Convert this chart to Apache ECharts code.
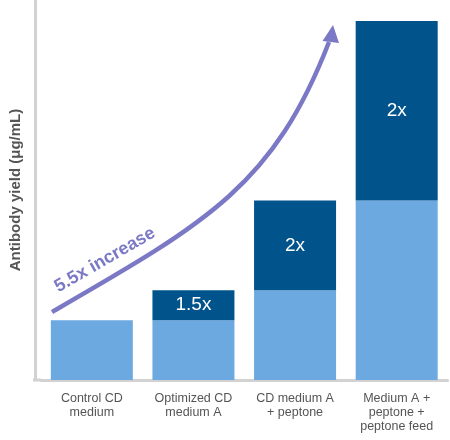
<!DOCTYPE html>
<html>
<head>
<meta charset="utf-8">
<script src="https://cdn.jsdelivr.net/npm/echarts@6/dist/echarts.min.js"></script>
<style>
  html, body { margin: 0; padding: 0; background: #fff; }
  #chart { width: 450px; height: 440px; }
</style>
</head>
<body>
<div id="chart"></div>
<script>
// categories along the x axis
const categories = ['Control CD\nmedium', 'Optimized CD\nmedium A', 'CD medium A\n+ peptone', 'Medium A +\npeptone +\npeptone feed'];
// yield carried over from the previous condition (relative units)
const baseYield = [1, 1, 1.5, 3];
// extra yield gained at each step
const gainYield = [0, 0.5, 1.5, 3];
// fold change written on the gain segment
const gainLabels = ['', '1.5x', '2x', '2x'];

const font = 'Arial, "Liberation Sans", sans-serif';
const chart = echarts.init(document.getElementById('chart'));

chart.setOption({
  backgroundColor: '#fff',
  animation: false,
  grid: { left: 40, right: 2.5, top: 0, bottom: 60 },
  xAxis: {
    type: 'category',
    data: categories,
    axisLine: { lineStyle: { color: '#d2d2d2', width: 3 } },
    axisTick: { show: false },
    axisLabel: { color: '#555', fontSize: 12.5, lineHeight: 14, margin: 12, fontFamily: font, interval: 0 }
  },
  yAxis: {
    type: 'value',
    min: 0,
    max: 6.35,
    offset: 6,
    name: 'Antibody yield (μg/mL)',
    nameLocation: 'middle',
    nameRotate: 90,
    nameGap: 12,
    nameTextStyle: { color: '#555', fontSize: 15, fontWeight: 'bold', fontFamily: font },
    axisLine: { show: true, lineStyle: { color: '#d2d2d2', width: 3 } },
    axisTick: { show: false },
    axisLabel: { show: false },
    splitLine: { show: false }
  },
  series: [
    {
      type: 'bar',
      stack: 'y',
      data: baseYield,
      barWidth: 82,
      itemStyle: { color: '#6ca9e1' }
    },
    {
      type: 'bar',
      stack: 'y',
      data: gainYield,
      barWidth: 82,
      itemStyle: { color: '#00538b' },
      label: {
        show: true,
        position: 'inside',
        color: '#fff',
        fontSize: 19,
        fontFamily: font,
        formatter: p => gainLabels[p.dataIndex]
      }
    }
  ],
  graphic: [
    // bit of x axis line left of the first band, up to the y axis
    { type: 'rect', shape: { x: 33, y: 378.5, width: 8, height: 3 }, style: { fill: '#d2d2d2' }, z: 5 },
    // growth arrow
    {
      type: 'bezierCurve',
      shape: { x1: 52, y1: 312, cpx1: 208, cpy1: 222, cpx2: 273.6, cpy2: 185, x2: 329, y2: 42 },
      style: { stroke: '#7b79c6', lineWidth: 4.5, fill: null },
      z: 10
    },
    {
      type: 'polygon',
      shape: { points: [[333, 25], [322.5, 41], [339, 43]] },
      style: { fill: '#7b79c6' },
      z: 10
    },
    {
      type: 'text',
      x: 105,
      y: 260,
      rotation: Math.PI / 6,
      style: {
        text: '5.5x increase',
        fill: '#7b79c6',
        font: 'bold 18px ' + font,
        align: 'center',
        verticalAlign: 'middle'
      },
      z: 10
    }
  ]
});
</script>
</body>
</html>
